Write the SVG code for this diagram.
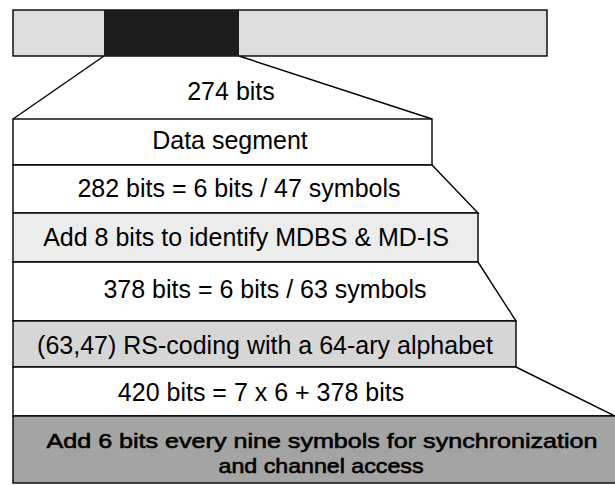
<svg xmlns="http://www.w3.org/2000/svg" width="615" height="485" viewBox="0 0 615 485">
<style>
.ln{stroke:#000;stroke-width:1.4;fill:none}
.box{stroke:#000;stroke-width:1.4}
.t{font-family:"Liberation Sans",Arial,sans-serif;font-size:25px;fill:#000;text-anchor:middle}
.tb{font-size:21px;stroke:#000;stroke-width:0.6}
</style>
<rect width="615" height="485" fill="#fff"/>
<g id="frame-bar">
<rect x="13" y="10" width="534" height="46" fill="#dddddd" class="box"/>
<rect x="104" y="10" width="135" height="46" fill="#1c1c1c"/>
</g>
<g id="connectors">
<line x1="104" y1="56" x2="13" y2="119" class="ln"/>
<line x1="239" y1="56" x2="432" y2="119" class="ln"/>
</g>
<g id="label-274">
<text x="231" y="100" class="t">274 bits</text>
</g>
<g id="data-segment">
<rect x="13" y="119" width="419" height="46" fill="#fff" class="box"/>
<text x="230" y="149" class="t">Data segment</text>
</g>
<g id="bits-282">
<polygon points="13,165 432,165 478,213 13,213" fill="#fff" class="box"/>
<text x="239" y="197" class="t">282 bits = 6 bits / 47 symbols</text>
</g>
<g id="add-8">
<rect x="13" y="213" width="465" height="49" fill="#ececec" class="box"/>
<text x="246" y="246" class="t">Add 8 bits to identify MDBS &amp; MD-IS</text>
</g>
<g id="bits-378">
<polygon points="13,262 478,262 516,321 13,321" fill="#fff" class="box"/>
<text x="265" y="298" class="t">378 bits = 6 bits / 63 symbols</text>
</g>
<g id="rs-coding">
<rect x="13" y="321" width="503" height="46" fill="#d6d6d6" class="box"/>
<text x="265" y="354" class="t">(63,47) RS-coding with a 64-ary alphabet</text>
</g>
<g id="bits-420">
<polygon points="13,367 516,367 615,416 13,416" fill="#fff" class="box"/>
<text x="261" y="401" class="t">420 bits = 7 x 6 + 378 bits</text>
</g>
<g id="add-6">
<rect x="13" y="416" width="604" height="67" fill="#a4a4a4" class="box"/>
<text x="322" y="448" class="t tb" textLength="551" lengthAdjust="spacingAndGlyphs">Add 6 bits every nine symbols for synchronization</text>
<text x="321" y="473" class="t tb" textLength="205" lengthAdjust="spacingAndGlyphs">and channel access</text>
</g>
</svg>
